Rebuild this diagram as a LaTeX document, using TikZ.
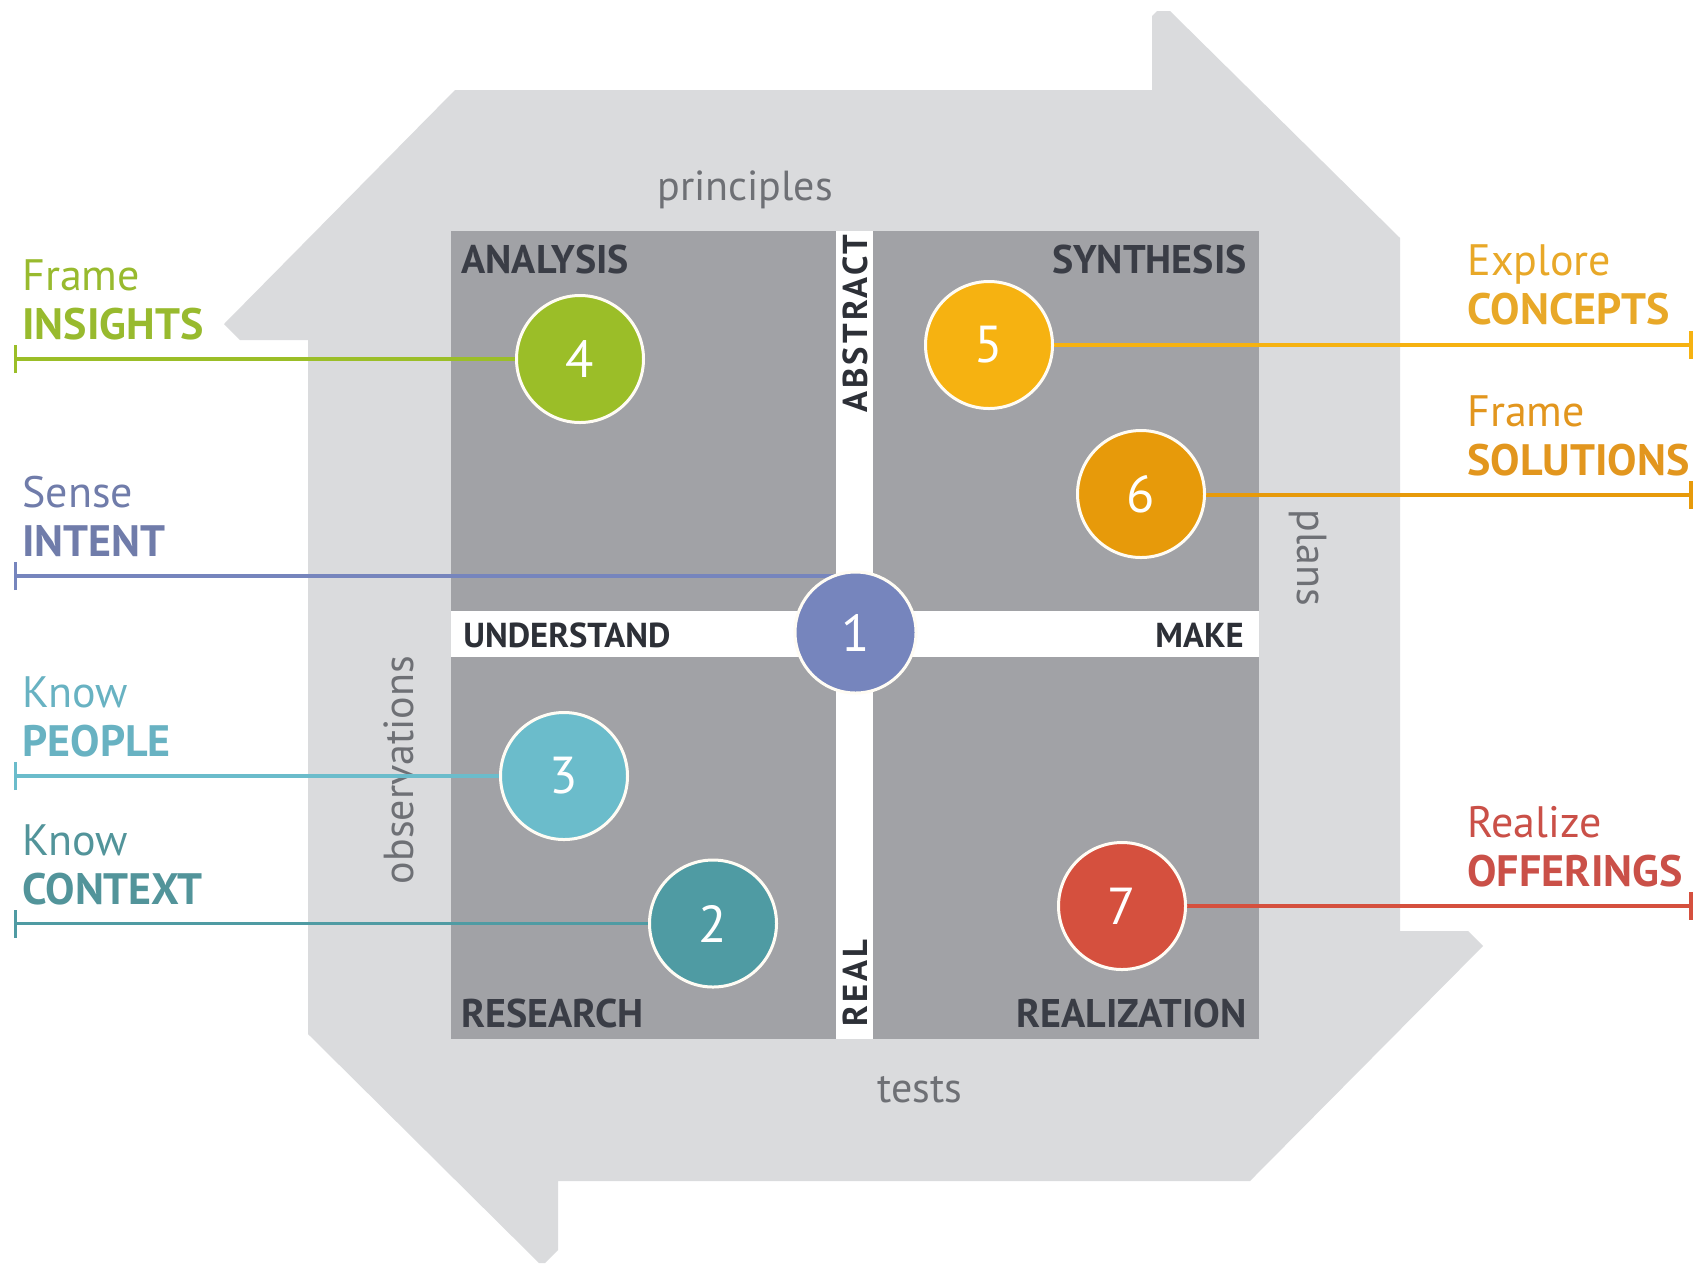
\documentclass[tikz,border=0pt]{standalone}
\usepackage{fontspec}
\setmainfont{PT Sans}
\usetikzlibrary{arrows.meta}
\definecolor{shapegrey}{RGB}{218,219,221}
\definecolor{quadgrey}{RGB}{161,162,166}
\definecolor{titlecol}{RGB}{58,61,70}
\definecolor{bandcol}{RGB}{45,48,55}
\definecolor{softcol}{RGB}{110,112,117}
\definecolor{cA}{RGB}{155,190,40}
\definecolor{cB}{RGB}{118,133,189}
\definecolor{cC}{RGB}{107,188,203}
\definecolor{cD}{RGB}{79,155,163}
\definecolor{cE}{RGB}{246,178,17}
\definecolor{cF}{RGB}{231,154,10}
\definecolor{cG}{RGB}{213,80,62}
\definecolor{tA}{RGB}{152,186,46}
\definecolor{tB}{RGB}{112,124,170}
\definecolor{tC}{RGB}{104,178,194}
\definecolor{tD}{RGB}{82,148,154}
\definecolor{tE}{RGB}{232,168,40}
\definecolor{tF}{RGB}{226,150,30}
\definecolor{tG}{RGB}{202,80,72}
\pgfdeclarelayer{front}
\pgfsetlayers{main,front}
\begin{document}
\begin{tikzpicture}[x=0.5pt,y=-0.5pt,
  qtitle/.style={inner sep=0pt,text=titlecol,font=\fontsize{20}{24}\selectfont\bfseries},
  bandlbl/.style={inner sep=0pt,text=bandcol,font=\fontsize{17.3}{20}\selectfont\bfseries},
  vbandlbl/.style={bandlbl,rotate=90,anchor=base west,font=\fontsize{17.3}{20}\selectfont\bfseries\addfontfeature{LetterSpace=9}},
  soft/.style={inner sep=0pt,text=softcol,font=\fontsize{21}{25}\selectfont},
  lreg/.style={inner sep=0pt,anchor=base west,font=\fontsize{22}{26}\selectfont},
  lbold/.style={inner sep=0pt,anchor=base west,font=\fontsize{22}{26}\selectfont\bfseries},
  stage/.style={circle,draw={rgb,255:red,255;green,252;blue,244},line width=1.5pt,
    minimum size=63.5pt,inner sep=0pt,text=white,font=\fontsize{26}{30}\selectfont},
  conn/.style={line width=1.8pt,{Bar[width=14pt]}-}]
\useasboundingbox (0,0) rectangle (1695,1265);
% cycle shape
\fill[shapegrey] (455,90) -- (1152,90) -- (1152,16) -- (1157,11) -- (1170,11)
  -- (1400,238) -- (1400,931) -- (1468,931) -- (1483,946) -- (1250,1181)
  -- (558,1181) -- (558,1250) -- (545,1263) -- (539,1263) -- (308,1034)
  -- (308,340) -- (240,340) -- (224,324) -- cycle;
% quadrants
\fill[white] (451,231) rectangle (1259,1039);
\fill[quadgrey] (451,231) rectangle (836,611);
\fill[quadgrey] (873,231) rectangle (1259,611);
\fill[quadgrey] (451,657) rectangle (836,1039);
\fill[quadgrey] (873,657) rectangle (1259,1039);
% quadrant titles
\node[qtitle,anchor=base west] (qa) at (461,273) {ANALYSIS};
\node[qtitle,anchor=base east] (qs) at (1247,273) {SYNTHESIS};
\node[qtitle,anchor=base west] (qr) at (461,1027) {RESEARCH};
\node[qtitle,anchor=base east] (qz) at (1247,1027) {REALIZATION};
% band labels
\node[bandlbl,anchor=base west] (bu) at (463,647) {UNDERSTAND};
\node[bandlbl,anchor=base east] (bm) at (1244,647) {MAKE};
\node[vbandlbl] (ba) at (867,413) {ABSTRACT};
\node[vbandlbl] (br) at (867,1027) {REAL};
% soft labels
\node[soft,anchor=base] (sp) at (745,200) {principles};
\node[soft,anchor=base] (st) at (920,1102) {tests};
\node[soft,rotate=-90] (sl) at (1308,558) {plans};
\node[soft,rotate=90] (so) at (399,770) {observations};
% side labels
\node[lreg,text=tA] (l4a) at (22,290) {Frame};
\node[lbold,text=tA] (l4b) at (22,339) {INSIGHTS};
\node[lreg,text=tB] (l1a) at (22,507) {Sense};
\node[lbold,text=tB] (l1b) at (22,556) {INTENT};
\node[lreg,text=tC] (l3a) at (22,707) {Know};
\node[lbold,text=tC] (l3b) at (22,756) {PEOPLE};
\node[lreg,text=tD] (l2a) at (22,855) {Know};
\node[lbold,text=tD] (l2b) at (22,904) {CONTEXT};
\node[lreg,text=tE] (l5a) at (1467,275) {Explore};
\node[lbold,text=tE] (l5b) at (1467,324) {CONCEPTS};
\node[lreg,text=tF] (l6a) at (1467,426) {Frame};
\node[lbold,text=tF] (l6b) at (1467,475) {SOLUTIONS};
\node[lreg,text=tG] (l7a) at (1467,837) {Realize};
\node[lbold,text=tG] (l7b) at (1467,886) {OFFERINGS};
% stages
\begin{pgfonlayer}{front}
\node[stage,fill=cB,minimum size=60.5pt] (c1) at (855.5,632.5) {1};
\node[stage,fill=cD] (c2) at (713,923.5) {2};
\node[stage,fill=cC] (c3) at (564,776) {3};
\node[stage,fill=cA] (c4) at (580,359) {4};
\node[stage,fill=cE] (c5) at (989,345) {5};
\node[stage,fill=cF] (c6) at (1141,494) {6};
\node[stage,fill=cG] (c7) at (1122,906) {7};
\end{pgfonlayer}
% connectors
\coordinate (t4) at (13.5,359);
\coordinate (t1) at (13.5,576);
\coordinate (t3) at (13.5,776);
\coordinate (t2) at (13.5,923.5);
\coordinate (t5) at (1693,345);
\coordinate (t6) at (1693,495);
\coordinate (t7) at (1693,906);
\draw[conn,cA] (t4) -- (t4 -| c4);
\draw[conn,cB] (t1) -- (t1 -| c1);
\draw[conn,cC] (t3) -- (t3 -| c3);
\draw[conn,cD] (t2) -- (t2 -| c2);
\draw[conn,cE] (t5) -- (t5 -| c5);
\draw[conn,cF] (t6) -- (t6 -| c6);
\draw[conn,cG] (t7) -- (t7 -| c7);
\end{tikzpicture}
\end{document}
